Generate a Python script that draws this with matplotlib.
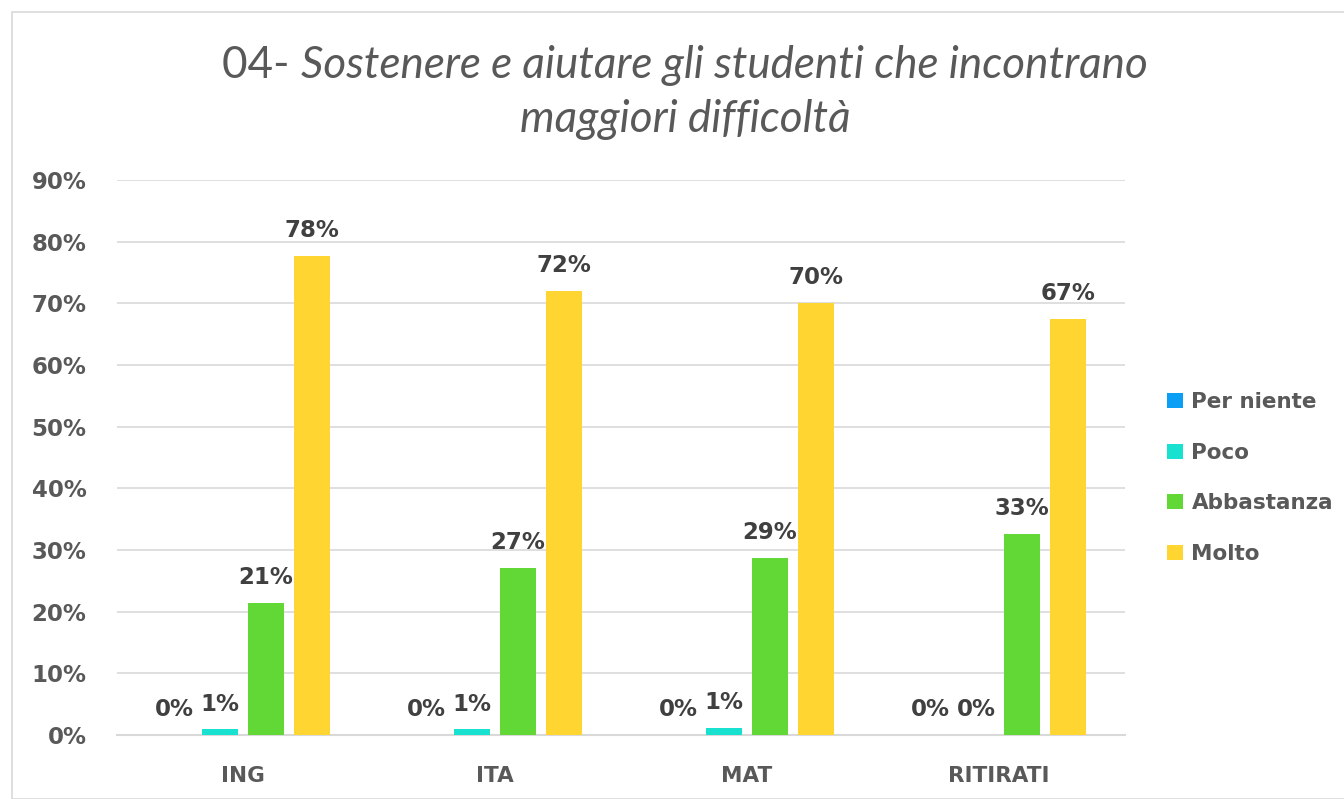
import matplotlib
matplotlib.use("Agg")
import matplotlib.pyplot as plt
import numpy as np
from matplotlib.patches import Rectangle

categories = ["ING", "ITA", "MAT", "RITIRATI"]
series_names = ["Per niente", "Poco", "Abbastanza", "Molto"]
per_niente = [0.0, 0.0, 0.0, 0.0]
poco = [0.9, 0.9, 1.2, 0.0]
abbastanza = [21.4, 27.1, 28.7, 32.6]
molto = [77.7, 72.0, 70.0, 67.4]
colors = ["#0A9EF5", "#18E2CF", "#62D836", "#FFD631"]
yticks = [0, 10, 20, 30, 40, 50, 60, 70, 80, 90]

series = [per_niente, poco, abbastanza, molto]
txt = "#595959"
plt.rcParams['font.family'] = ['DejaVu Sans']
title_family = ['Lato', 'DejaVu Sans']
fw = "bold"

fig = plt.figure(figsize=(13.44, 7.99), dpi=100)
ax = fig.add_axes([117/1344, 1-735/799, (1125-117)/1344, (735-180)/799])

x = np.arange(len(categories))
pitch = 46/252
width = 36/252
for i, (vals, c) in enumerate(zip(series, colors)):
    pos = x + (i - 1.5) * pitch
    ax.bar(pos, vals, width=width, color=c, label=series_names[i], zorder=3)
    for xp, v in zip(pos, vals):
        ax.annotate(f"{round(v):d}%", (xp, v), xytext=(0, 10), textcoords="offset points",
                    ha="center", va="bottom", fontsize=16.5, color="#404040", fontweight=fw)

ax.set_xlim(-0.5, 3.5)
ax.set_ylim(0, 90)
ax.set_yticks(yticks)
ax.set_yticklabels([f"{t}%" for t in yticks], fontsize=16.5, color=txt, fontweight=fw)
ax.set_xticks(x)
ax.set_xticklabels(categories, fontsize=15.5, color=txt, fontweight=fw)
ax.tick_params(axis="y", length=0, pad=22)
ax.tick_params(axis="x", length=0, pad=22)
ax.grid(axis="y", color="#D9D9D9", linewidth=1.2, zorder=0)
for s in ["top", "right", "left"]:
    ax.spines[s].set_visible(False)
ax.spines["bottom"].set_color("#D9D9D9")
ax.spines["bottom"].set_linewidth(1.5)

# Title (two lines, centered at x=685)
W, H = 1344, 799
cx = 685
fs = 40
t1 = fig.text(0, 1-65/H, "04- ", fontsize=fs, color=txt, ha="left", va="center", family=title_family)
t2 = fig.text(0, 1-65/H, "Sostenere e aiutare gli studenti che incontrano",
              fontsize=fs, color=txt, style="italic", ha="left", va="center", family=title_family)
fig.canvas.draw()
r = fig.canvas.get_renderer()
w1 = t1.get_window_extent(r).width
w2 = t2.get_window_extent(r).width
target = 926
scale = min(1.0, target / (w1 + w2))
if scale < 1.0:
    t1.set_fontsize(fs * scale)
    t2.set_fontsize(fs * scale)
    fig.canvas.draw()
    w1 = t1.get_window_extent(r).width
    w2 = t2.get_window_extent(r).width
x0 = cx - (w1 + w2) / 2
t1.set_x(x0 / W)
t2.set_x((x0 + w1) / W)
fig.text(cx/W, 1-120/H, "maggiori difficoltà", fontsize=t2.get_fontsize(), color=txt,
         style="italic", ha="center", va="center", family=title_family)

leg = fig.legend(loc="center left", bbox_to_anchor=(1148/W, 1-478/H), frameon=False,
                 fontsize=15.5, labelcolor=txt, handlelength=0.72, handleheight=0.72,
                 handletextpad=0.4, labelspacing=1.42)
for t in leg.get_texts():
    t.set_fontweight(fw)

fig.patches.append(Rectangle((12/W, 0), 1.2, 1-12/H, transform=fig.transFigure,
                             fill=False, edgecolor="#D9D9D9", linewidth=1.2))

fig.savefig("out.png", dpi=100)
